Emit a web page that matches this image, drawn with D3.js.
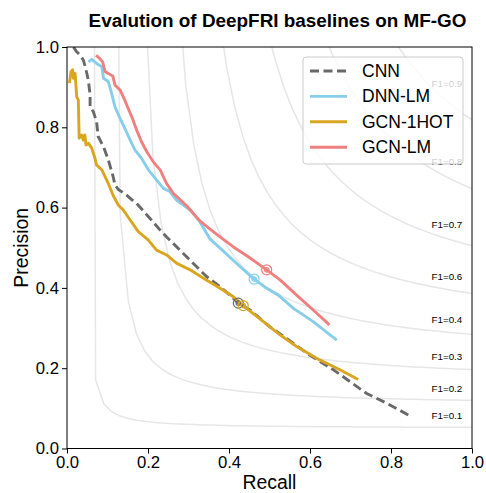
<!DOCTYPE html>
<html>
<head>
<meta charset="utf-8">
<script src="https://cdn.jsdelivr.net/npm/d3@7"></script>
<style>
html,body{margin:0;padding:0;background:#fff;}
svg{display:block;font-family:"Liberation Sans",Arial,sans-serif;}
</style>
</head>
<body>
<svg id="chart" width="486" height="493"></svg>
<script>
// ---- data ----
const seriesNames = ["CNN", "DNN-LM", "GCN-1HOT", "GCN-LM"];
const seriesColors = ["#696969", "#87CEEB", "#DAA520", "#F08080"];

const cnnPR = [[0.016,1.0],[0.024,0.988],[0.032,0.98],[0.040,0.968],[0.044,0.955],[0.049,0.934],[0.053,0.915],[0.057,0.88],[0.057,0.851],[0.065,0.839],[0.073,0.814],[0.077,0.777],[0.090,0.752],[0.102,0.719],[0.114,0.677],[0.1185,0.656],[0.127,0.645],[0.147,0.631],[0.176,0.606],[0.205,0.573],[0.230,0.544],[0.246,0.527],[0.279,0.494],[0.312,0.461],[0.345,0.428],[0.378,0.403],[0.411,0.374],[0.423,0.362],[0.452,0.345],[0.501,0.303],[0.542,0.274],[0.600,0.232],[0.658,0.196],[0.740,0.137],[0.789,0.113],[0.851,0.079]];

const dnnLmPR = [[0.053,0.963],[0.061,0.969],[0.073,0.959],[0.086,0.951],[0.090,0.922],[0.102,0.914],[0.110,0.885],[0.1185,0.851],[0.131,0.822],[0.143,0.797],[0.156,0.768],[0.168,0.743],[0.184,0.723],[0.201,0.694],[0.221,0.669],[0.238,0.648],[0.254,0.640],[0.271,0.618],[0.304,0.594],[0.328,0.565],[0.353,0.522],[0.394,0.484],[0.423,0.457],[0.462,0.422],[0.493,0.399],[0.522,0.382],[0.559,0.349],[0.608,0.316],[0.666,0.270]];

const gcn1hotPR = [[0.006,0.910],[0.010,0.939],[0.014,0.943],[0.016,0.922],[0.020,0.934],[0.024,0.876],[0.028,0.868],[0.030,0.773],[0.036,0.781],[0.040,0.768],[0.044,0.781],[0.047,0.756],[0.053,0.760],[0.061,0.748],[0.069,0.723],[0.073,0.706],[0.086,0.694],[0.094,0.677],[0.102,0.660],[0.114,0.630],[0.127,0.606],[0.139,0.594],[0.156,0.569],[0.176,0.540],[0.201,0.519],[0.221,0.494],[0.246,0.482],[0.271,0.461],[0.304,0.445],[0.337,0.424],[0.378,0.399],[0.411,0.378],[0.435,0.356],[0.485,0.316],[0.526,0.283],[0.567,0.254],[0.625,0.220],[0.674,0.196],[0.719,0.172]];

const gcnLmPR = [[0.0716,0.979],[0.080,0.972],[0.088,0.963],[0.094,0.939],[0.102,0.934],[0.113,0.928],[0.1185,0.905],[0.131,0.893],[0.143,0.867],[0.151,0.847],[0.160,0.826],[0.172,0.793],[0.184,0.764],[0.197,0.739],[0.213,0.714],[0.230,0.694],[0.246,0.660],[0.262,0.636],[0.296,0.604],[0.328,0.567],[0.361,0.540],[0.386,0.521],[0.411,0.502],[0.444,0.480],[0.475,0.458],[0.493,0.445],[0.526,0.420],[0.567,0.382],[0.608,0.345],[0.648,0.308]];

// Fmax operating points (recall, precision)
const fmaxPoints = [[0.423,0.362],[0.462,0.422],[0.435,0.356],[0.493,0.445]];

// iso-F1 reference curves
const f1Levels = [0.1, 0.2143, 0.3286, 0.4429, 0.5571, 0.6714, 0.7857, 0.9];
const f1Labels = ["F1=0.1","F1=0.2","F1=0.3","F1=0.4","F1=0.6","F1=0.7","F1=0.8","F1=0.9"];
const isoGridCount = 50;

const xTicks = [0, 0.2, 0.4, 0.6, 0.8, 1.0];
const yTicks = [0, 0.2, 0.4, 0.6, 0.8, 1.0];
const titleText = "Evalution of DeepFRI baselines on MF-GO";

// ---- layout ----
const svg = d3.select("#chart");
const m = {left: 67, top: 47, right: 486 - 472, bottom: 493 - 448.5};
const W = 486 - m.left - m.right, H = 493 - m.top - m.bottom;
const x = d3.scaleLinear().domain([0, 1]).range([m.left, m.left + W]);
const y = d3.scaleLinear().domain([0, 1]).range([m.top + H, m.top]);

svg.append("defs").append("clipPath").attr("id", "clip")
  .append("rect").attr("x", m.left).attr("y", m.top).attr("width", W).attr("height", H);

const plot = svg.append("g").attr("clip-path", "url(#clip)");
const line = d3.line().x(d => x(d[0])).y(d => y(d[1]));

// iso-F1 curves
const grid = d3.range(isoGridCount).map(i => 0.01 + i * (1 - 0.01) / (isoGridCount - 1));
f1Levels.forEach((f, k) => {
  const pts = grid.map(r => [r, f * r / (2 * r - f)]).filter(d => d[1] >= 0);
  plot.append("path").attr("d", line(pts)).attr("fill", "none")
    .attr("stroke", "#808080").attr("stroke-opacity", 0.2).attr("stroke-width", 1.5);
  const r45 = grid[45];
  const yl = f * r45 / (2 * r45 - f) + 0.02;
  svg.append("text").attr("x", x(0.9)).attr("y", y(yl))
    .attr("font-size", 9.8).attr("fill", "#000").text(f1Labels[k]);
});

// series
const seriesData = [cnnPR, dnnLmPR, gcn1hotPR, gcnLmPR];
seriesData.forEach((d, i) => {
  plot.append("path").attr("d", line(d)).attr("fill", "none")
    .attr("stroke", seriesColors[i]).attr("stroke-width", 2.9)
    .attr("stroke-linejoin", "round")
    .attr("stroke-dasharray", i === 0 ? "9,4.5" : null);
});
// Fmax markers
fmaxPoints.forEach((p, i) => {
  const cx = x(p[0]), cy = y(p[1]);
  const g = plot.append("g").attr("stroke", seriesColors[i]).attr("fill", "none").attr("stroke-width", 1.2);
  g.append("circle").attr("cx", cx).attr("cy", cy).attr("r", 5);
  g.append("circle").attr("cx", cx).attr("cy", cy).attr("r", 2.2);
});

// axes
const xAxis = svg.append("g").attr("transform", `translate(0,${m.top + H})`)
  .call(d3.axisBottom(x).tickValues(xTicks).tickFormat(d3.format(".1f")).tickSizeOuter(0).tickSize(5).tickPadding(3));
const yAxis = svg.append("g").attr("transform", `translate(${m.left},0)`)
  .call(d3.axisLeft(y).tickValues(yTicks).tickFormat(d3.format(".1f")).tickSizeOuter(0).tickSize(5).tickPadding(3));
[xAxis, yAxis].forEach(a => {
  a.select(".domain").remove();
  a.selectAll("text").attr("font-size", 16.7).attr("fill", "#000").attr("font-family", "Liberation Sans, Arial, sans-serif");
  a.selectAll("line").attr("stroke", "#000").attr("stroke-width", 1);
});
// frame
svg.append("rect").attr("x", m.left).attr("y", m.top).attr("width", W).attr("height", H)
  .attr("fill", "none").attr("stroke", "#000").attr("stroke-width", 1);

// labels
svg.append("text").attr("x", m.left + W / 2).attr("y", 489).attr("text-anchor", "middle")
  .attr("font-size", 19.4).text("Recall");
svg.append("text").attr("transform", `translate(28,${m.top + H / 2}) rotate(-90)`)
  .attr("text-anchor", "middle").attr("font-size", 19.4).text("Precision");
svg.append("text").attr("x", 277.5).attr("y", 27).attr("text-anchor", "middle")
  .attr("font-size", 18.9).attr("font-weight", "bold").text(titleText);

// legend
const lg = svg.append("g");
lg.append("rect").attr("x", 303).attr("y", 57).attr("width", 160).attr("height", 107)
  .attr("rx", 3).attr("fill", "#fff").attr("fill-opacity", 0.8).attr("stroke", "#cccccc").attr("stroke-width", 1);
seriesNames.forEach((n, i) => {
  const yy = 71 + i * 25.4;
  lg.append("line").attr("x1", 310).attr("x2", 347).attr("y1", yy).attr("y2", yy)
    .attr("stroke", seriesColors[i]).attr("stroke-width", 2.9)
    .attr("stroke-dasharray", i === 0 ? "9,4.5" : null);
  lg.append("text").attr("x", 362).attr("y", yy + 6).attr("font-size", 17.5).attr("fill", "#000").text(n);
});
</script>
</body>
</html>
